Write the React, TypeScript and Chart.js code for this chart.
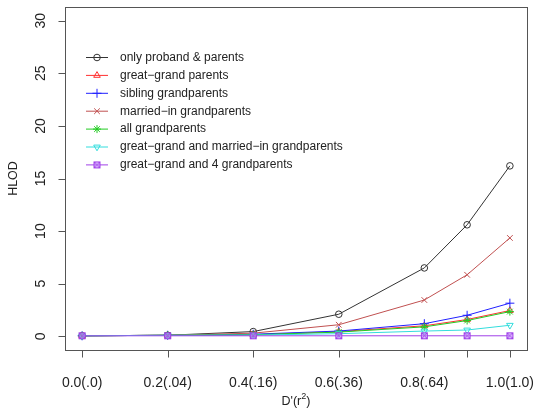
import React, { useEffect, useRef } from "react";
import { Chart, registerables } from "chart.js";
import { drawPoint } from "chart.js/helpers";

Chart.register(...registerables);

// ---------- data ----------
const xValues = [0, 0.2, 0.4, 0.6, 0.8, 0.9, 1.0];
const xTickValues = [0, 0.2, 0.4, 0.6, 0.8, 0.9, 1.0];
const xTickLabels = ["0.0(.0)", "0.2(.04)", "0.4(.16)", "0.6(.36)", "0.8(.64)", "", "1.0(1.0)"];
const yTickValues = [0, 5, 10, 15, 20, 25, 30];
const yTickLabels = ["0", "5", "10", "15", "20", "25", "30"];

const seriesNames = [
  "only proband & parents",
  "great\u2212grand parents",
  "sibling grandparents",
  "married\u2212in grandparents",
  "all grandparents",
  "great\u2212grand and married\u2212in grandparents",
  "great\u2212grand and 4 grandparents",
];

const onlyProband = [0.05, 0.1, 0.45, 2.1, 6.5, 10.6, 16.2];
const greatGrand = [0.05, 0.1, 0.15, 0.45, 1.0, 1.6, 2.45];
const siblingGrand = [0.05, 0.1, 0.2, 0.5, 1.2, 2.0, 3.15];
const marriedInGrand = [0.05, 0.1, 0.3, 1.1, 3.45, 5.85, 9.35];
const allGrand = [0.05, 0.1, 0.15, 0.4, 0.9, 1.5, 2.35];
const ggMarriedIn = [0.05, 0.1, 0.12, 0.25, 0.5, 0.6, 1.05];
const gg4Grand = [0.05, 0.05, 0.05, 0.05, 0.05, 0.05, 0.05];

const seriesValues = [onlyProband, greatGrand, siblingGrand, marriedInGrand, allGrand, ggMarriedIn, gg4Grand];

// ---------- styles ----------
const FONT = "'Liberation Sans', Arial, Helvetica, sans-serif";
const TEXT = "#222";

function boxCross(color: string): HTMLCanvasElement {
  const c = document.createElement("canvas");
  c.width = 9;
  c.height = 9;
  const g = c.getContext("2d")!;
  g.strokeStyle = color;
  g.fillStyle = "rgba(200,150,255,0.6)";
  g.lineWidth = 1;
  g.fillRect(1, 1, 7, 7);
  g.strokeRect(1.5, 1.5, 6, 6);
  g.beginPath();
  g.moveTo(1.5, 1.5);
  g.lineTo(7.5, 7.5);
  g.moveTo(7.5, 1.5);
  g.lineTo(1.5, 7.5);
  g.stroke();
  return c;
}

type SeriesStyle = { color: string; pointStyle: any; rotation: number; radius: number };

function makeStyles(): SeriesStyle[] {
  return [
    { color: "#333333", pointStyle: "circle", rotation: 0, radius: 3.3 },
    { color: "#ff3030", pointStyle: "triangle", rotation: 0, radius: 3.8 },
    { color: "#2020ff", pointStyle: "cross", rotation: 0, radius: 4.5 },
    { color: "#c05050", pointStyle: "crossRot", rotation: 0, radius: 4 },
    { color: "#22cc22", pointStyle: "star", rotation: 0, radius: 4 },
    { color: "#33dddd", pointStyle: "triangle", rotation: 180, radius: 3.8 },
    { color: "#a040e8", pointStyle: boxCross("#a040e8"), rotation: 0, radius: 4 },
  ];
}

export default function App() {
  const ref = useRef<HTMLCanvasElement | null>(null);

  useEffect(() => {
    const canvas = ref.current;
    if (!canvas) return;
    const styles = makeStyles();
    const n = seriesValues.length;

    const datasets = seriesValues.map((vals, i) => ({
      label: seriesNames[i],
      data: vals.map((v, j) => ({ x: xValues[j], y: v })),
      borderColor: styles[i].color,
      backgroundColor: "rgba(0,0,0,0)",
      borderWidth: 1,
      pointStyle: styles[i].pointStyle,
      pointRotation: styles[i].rotation,
      pointRadius: styles[i].radius,
      pointBorderWidth: 1,
      pointBorderColor: styles[i].color,
      pointBackgroundColor: "rgba(0,0,0,0)",
      tension: 0,
      order: n - 1 - i,
    }));

    const rAxes = {
      id: "rAxes",
      afterDraw(chart: any) {
        const ctx = chart.ctx as CanvasRenderingContext2D;
        const a = chart.chartArea;
        const xs = chart.scales.x;
        const ys = chart.scales.y;
        ctx.save();
        // box
        ctx.strokeStyle = "#555";
        ctx.lineWidth = 1;
        ctx.strokeRect(Math.round(a.left) + 0.5, Math.round(a.top) + 0.5, Math.round(a.right - a.left), Math.round(a.bottom - a.top));
        const bottom = Math.round(a.bottom) + 0.5;
        const left = Math.round(a.left) + 0.5;
        // x ticks
        ctx.beginPath();
        xTickValues.forEach((v) => {
          const px = Math.round(xs.getPixelForValue(v)) + 0.5;
          ctx.moveTo(px, bottom);
          ctx.lineTo(px, bottom + 7);
        });
        // y ticks
        yTickValues.forEach((v) => {
          const py = Math.round(ys.getPixelForValue(v)) + 0.5;
          ctx.moveTo(left, py);
          ctx.lineTo(left - 7, py);
        });
        ctx.stroke();
        // x labels
        ctx.fillStyle = TEXT;
        ctx.font = `14px ${FONT}`;
        ctx.textAlign = "center";
        ctx.textBaseline = "middle";
        xTickValues.forEach((v, i) => {
          if (!xTickLabels[i]) return;
          ctx.fillText(xTickLabels[i], xs.getPixelForValue(v), a.bottom + 33);
        });
        // y labels (rotated)
        yTickValues.forEach((v, i) => {
          ctx.save();
          ctx.translate(a.left - 24, ys.getPixelForValue(v));
          ctx.rotate(-Math.PI / 2);
          ctx.fillText(yTickLabels[i], 0, 0);
          ctx.restore();
        });
        // x title: D'(r^2)
        ctx.font = `12.5px ${FONT}`;
        const cx = (a.left + a.right) / 2;
        const ty = a.bottom + 52;
        const t1 = "D'(r";
        const t2 = "2";
        const t3 = ")";
        ctx.font = `12.5px ${FONT}`;
        const w1 = ctx.measureText(t1).width;
        const w3 = ctx.measureText(t3).width;
        ctx.font = `9px ${FONT}`;
        const w2 = ctx.measureText(t2).width;
        const total = w1 + w2 + w3;
        let sx = cx - total / 2;
        ctx.textAlign = "left";
        ctx.font = `12.5px ${FONT}`;
        ctx.fillText(t1, sx, ty);
        sx += w1;
        ctx.font = `9px ${FONT}`;
        ctx.fillText(t2, sx, ty - 5);
        sx += w2;
        ctx.font = `12.5px ${FONT}`;
        ctx.fillText(t3, sx, ty);
        // y title
        ctx.save();
        ctx.translate(14, (a.top + a.bottom) / 2);
        ctx.rotate(-Math.PI / 2);
        ctx.textAlign = "center";
        ctx.font = `12.5px ${FONT}`;
        ctx.fillText("HLOD", 0, 0);
        ctx.restore();

        // legend
        const lx0 = 86;
        const lx1 = 108;
        const mx = 97;
        const tx = 120;
        const y0 = 57;
        const dy = 17.9;
        seriesNames.forEach((name, i) => {
          const y = y0 + i * dy;
          const s = styles[i];
          ctx.strokeStyle = s.color;
          ctx.lineWidth = 1;
          ctx.beginPath();
          ctx.moveTo(lx0, y + 0.5);
          ctx.lineTo(lx1, y + 0.5);
          ctx.stroke();
          ctx.fillStyle = "rgba(0,0,0,0)";
          drawPoint(ctx, { pointStyle: s.pointStyle, rotation: s.rotation, radius: s.radius, borderWidth: 1 } as any, mx, y + 0.5);
          ctx.fillStyle = TEXT;
          ctx.font = `12px ${FONT}`;
          ctx.textAlign = "left";
          ctx.textBaseline = "middle";
          ctx.fillText(name, tx, y + 0.5);
        });
        ctx.restore();
      },
    };

    const chart = new Chart(canvas, {
      type: "line",
      data: { datasets: datasets as any },
      options: {
        animation: false,
        responsive: false,
        maintainAspectRatio: false,
        layout: { padding: { left: 65, top: 7, right: 8, bottom: 62 } },
        plugins: { legend: { display: false }, tooltip: { enabled: false } },
        scales: {
          x: { type: "linear", min: -0.04, max: 1.04, display: false },
          y: { type: "linear", min: -1.3, max: 31.3, display: false },
        },
      },
      plugins: [rAxes],
    });
    return () => chart.destroy();
  }, []);

  return (
    <div style={{ position: "absolute", left: 0, top: 0, width: 535, height: 412, background: "#fff" }}>
      <canvas ref={ref} width={535} height={412} style={{ display: "block", width: 535, height: 412 }} />
    </div>
  );
}
